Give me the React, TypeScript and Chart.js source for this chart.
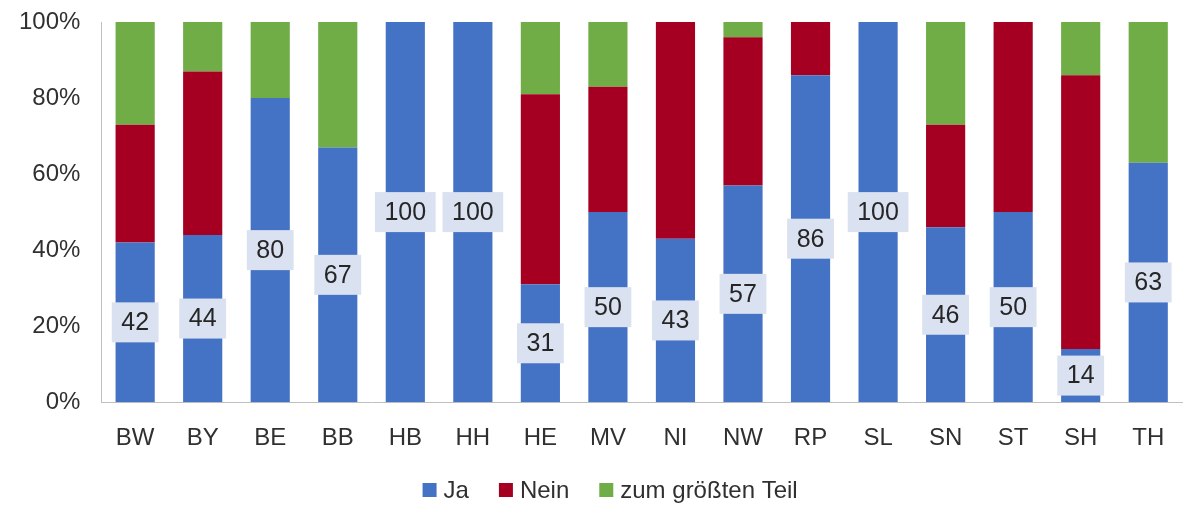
import React, { useEffect, useRef } from "react";
import { Chart, registerables } from "chart.js";

Chart.register(...registerables);

const categories = ["BW", "BY", "BE", "BB", "HB", "HH", "HE", "MV", "NI", "NW", "RP", "SL", "SN", "ST", "SH", "TH"];
const ja = [42, 44, 80, 67, 100, 100, 31, 50, 43, 57, 86, 100, 46, 50, 14, 63];
const nein = [31, 43, 0, 0, 0, 0, 50, 33, 57, 39, 14, 0, 27, 50, 72, 0];
const teil = [27, 13, 20, 33, 0, 0, 19, 17, 0, 4, 0, 0, 27, 0, 14, 37];
const yTicks = [0, 20, 40, 60, 80, 100];

const FONT = "'Liberation Sans', Arial, sans-serif";
const TEXT = "#303030";

const labelPlugin = {
  id: "jaLabels",
  afterDatasetsDraw(chart: any) {
    const ctx = chart.ctx;
    const meta = chart.getDatasetMeta(0);
    ctx.save();
    ctx.font = `25px ${FONT}`;
    ctx.textAlign = "center";
    ctx.textBaseline = "middle";
    meta.data.forEach((el: any, i: number) => {
      const { x, y, base } = el.getProps(["x", "y", "base"], true);
      const cy = (y + base) / 2;
      const txt = String(ja[i]);
      const w = ctx.measureText(txt).width + 19;
      const h = 40;
      ctx.fillStyle = "#DAE1F0";
      ctx.fillRect(x - w / 2, cy - h / 2, w, h);
      ctx.fillStyle = "#262626";
      ctx.fillText(txt, x, cy + 1);
    });
    ctx.restore();
  },
};

const legendPlugin = {
  id: "customLegend",
  afterDraw(chart: any) {
    const ctx = chart.ctx;
    const ds = chart.data.datasets;
    const box = 14, gapText = 7, gapItem = 30;
    ctx.save();
    ctx.font = `24px ${FONT}`;
    ctx.textBaseline = "middle";
    ctx.textAlign = "left";
    const widths = ds.map((d: any) => box + gapText + ctx.measureText(d.label).width);
    const total = widths.reduce((a: number, b: number) => a + b, 0) + gapItem * (ds.length - 1);
    let x = chart.width * 0.514 - total / 2;
    const cy = 490;
    ds.forEach((d: any, i: number) => {
      ctx.fillStyle = d.backgroundColor;
      ctx.fillRect(x, cy - box / 2, box, box);
      ctx.fillStyle = TEXT;
      ctx.fillText(d.label, x + box + gapText, cy + 1);
      x += widths[i] + gapItem;
    });
    ctx.restore();
  },
};

export default function App() {
  const ref = useRef<HTMLCanvasElement | null>(null);
  useEffect(() => {
    document.body.style.margin = "0";
    if (!ref.current) return;
    const chart = new Chart(ref.current, {
      type: "bar",
      data: {
        labels: categories,
        datasets: [
          { label: "Ja", data: ja, backgroundColor: "#4472C4" },
          { label: "Nein", data: nein, backgroundColor: "#A50021" },
          { label: "zum größten Teil", data: teil, backgroundColor: "#70AD47" },
        ],
      },
      options: {
        animation: false,
        responsive: false,
        maintainAspectRatio: false,
        layout: { padding: { top: 22, right: 5, left: 16, bottom: 50 } },
        datasets: { bar: { categoryPercentage: 1, barPercentage: 0.58 } },
        scales: {
          x: {
            stacked: true,
            grid: { display: false, drawTicks: true, tickLength: 18 },
            border: { display: true, color: "#BFBFBF", width: 1 },
            ticks: { color: TEXT, font: { family: FONT, size: 24 }, padding: 4 },
          },
          y: {
            stacked: true,
            min: 0,
            max: 100,
            afterBuildTicks: (axis: any) => {
              axis.ticks = yTicks.map((v) => ({ value: v }));
            },
            grid: { display: false, drawTicks: true, tickLength: 18 },
            border: { display: true, color: "#BFBFBF", width: 1 },
            ticks: {
              color: TEXT,
              font: { family: FONT, size: 24 },
              padding: 3,
              callback: (v: any) => `${v}%`,
            },
          },
        },
        plugins: {
          legend: { display: false },
          tooltip: { enabled: false },
        },
      },
      plugins: [labelPlugin, legendPlugin],
    });
    return () => chart.destroy();
  }, []);
  return (
    <div style={{ width: 1187, height: 507 }}>
      <canvas ref={ref} width={1187} height={507} style={{ display: "block" }} />
    </div>
  );
}
